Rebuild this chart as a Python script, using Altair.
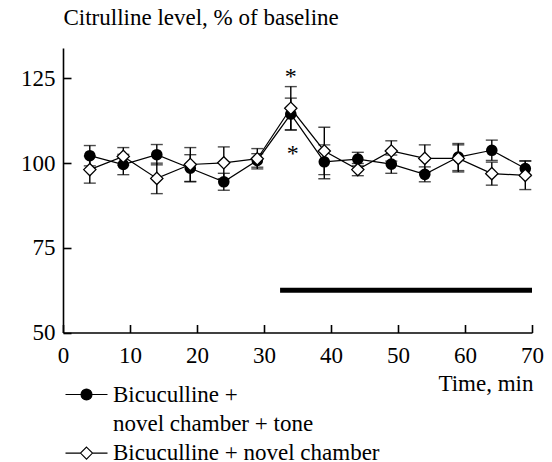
import altair as alt
import pandas as pd

# ---- data ----
time_min = [4, 9, 14, 19, 24, 29, 34, 39, 44, 49, 54, 59, 64, 69]
tone_mean = [102.2, 99.6, 102.5, 98.5, 94.5, 100.8, 114.5, 100.4, 101.2, 99.7, 96.7, 101.8, 103.8, 98.4]
tone_sem = [3.0, 3.0, 3.0, 4.0, 2.5, 2.0, 4.7, 5.0, 2.0, 2.7, 2.2, 4.0, 3.0, 2.3]
chamber_mean = [98.1, 102.0, 95.5, 99.6, 100.1, 101.3, 116.2, 103.6, 98.1, 103.6, 101.4, 101.4, 96.9, 96.4]
chamber_sem = [4.0, 2.6, 4.5, 5.0, 4.7, 3.0, 6.4, 7.0, 1.8, 3.0, 4.0, 4.0, 3.4, 4.2]

series_names = ["Bicuculline + novel chamber + tone", "Bicuculline + novel chamber"]

star_x = [34.0, 34.3]
star_y = [126.7, 104.0]

bar_start = [32.4]
bar_end = [70.0]
bar_level = [62.5]

x_ticks = [0, 10, 20, 30, 40, 50, 60, 70]
y_ticks = [50, 75, 100, 125]

legend_labels = ["Bicuculline +", "novel chamber + tone", "Bicuculline + novel chamber"]
legend_shapes = [
    "M-2.1,0H2.1M0.55,0A0.55,0.55,0,1,1,-0.55,0A0.55,0.55,0,1,1,0.55,0Z",
    "M0,0",
    "M-2.1,0H-0.6M0.6,0H2.1M0,-0.6L0.6,0L0,0.6L-0.6,0Z",
]
legend_fills = ["black", "white", "white"]
legend_strokes = ["black", "white", "black"]

FONT = "Liberation Serif"
W = 469

tone = pd.DataFrame({"t": time_min, "m": tone_mean, "s": tone_sem, "series": series_names[0]})
chamber = pd.DataFrame({"t": time_min, "m": chamber_mean, "s": chamber_sem, "series": series_names[1]})
df = pd.concat([tone, chamber], ignore_index=True)
df["lo"] = df["m"] - df["s"]
df["hi"] = df["m"] + df["s"]

stars = pd.DataFrame({"x": star_x, "y": star_y})
bar = pd.DataFrame({"x": bar_start, "x2": bar_end, "y": bar_level})
leg = pd.DataFrame({"label": legend_labels})

xs = alt.Scale(domain=[0, 70], nice=False, zero=False)
ys = alt.Scale(domain=[50, 134], nice=False, zero=False)

x_axis = alt.Axis(values=x_ticks, title="Time, min", format="d",
                  tickSize={"expr": "-8"}, labelPadding=20, grid=False, labelFlush=False,
                  titleX=W + 1, titleY=58, titleAlign="right", titleBaseline="alphabetic",
                  titleAnchor="end")
y_axis = alt.Axis(values=y_ticks, title="Citrulline level, % of baseline", format="d",
                  tickSize={"expr": "-8"}, labelPadding=16, grid=False, labelFlush=False,
                  titleAngle=0, titleX=0, titleY=-23.5, titleAlign="left",
                  titleBaseline="alphabetic", titleAnchor="start")

base = alt.Chart(df)

lines = base.mark_line(color="black", strokeWidth=1.2).encode(
    x=alt.X("t:Q", scale=xs, axis=x_axis),
    y=alt.Y("m:Q", scale=ys, axis=y_axis),
    detail="series:N",
)

err = base.mark_rule(color="black", strokeWidth=1.4).encode(
    x="t:Q", y="lo:Q", y2="hi:Q"
)
cap_lo = base.mark_tick(color="black", orient="horizontal", size=12, thickness=1.4).encode(
    x="t:Q", y="lo:Q"
)
cap_hi = base.mark_tick(color="black", orient="horizontal", size=12, thickness=1.4).encode(
    x="t:Q", y="hi:Q"
)

circles = base.transform_filter(alt.datum.series == series_names[0]).mark_point(
    shape="circle", filled=True, color="black", size=135, opacity=1
).encode(x="t:Q", y="m:Q")

diamonds = base.transform_filter(alt.datum.series == series_names[1]).mark_point(
    shape="diamond", filled=True, fill="white", stroke="black", strokeWidth=1.3, size=150, opacity=1
).encode(x="t:Q", y="m:Q")

star_layer = alt.Chart(stars).mark_text(
    text="*", font=FONT, fontSize=24, baseline="alphabetic", dy=11, color="black"
).encode(x="x:Q", y="y:Q")

bar_layer = alt.Chart(bar).mark_rule(color="black", strokeWidth=5).encode(
    x="x:Q", x2="x2:Q", y="y:Q"
)

leg_def = alt.Legend(
    title=None, orient="none", legendX=12, legendY=335, padding=0,
    symbolSize=400, symbolStrokeWidth=1.1,
    symbolOpacity=1, labelFont=FONT, labelFontSize=23, labelColor="black",
    labelOffset=15, rowPadding=5.3, labelLimit=400,
)
legend_layer = alt.Chart(leg).mark_point(
    size=0, filled=False, strokeWidth=1.1
).encode(
    x=alt.value(0), y=alt.value(0),
    shape=alt.Shape("label:N", scale=alt.Scale(domain=legend_labels, range=legend_shapes),
                    legend=leg_def, sort=legend_labels),
    fill=alt.Fill("label:N", scale=alt.Scale(domain=legend_labels, range=legend_fills),
                  legend=leg_def, sort=legend_labels),
    stroke=alt.Stroke("label:N", scale=alt.Scale(domain=legend_labels, range=legend_strokes),
                      legend=leg_def, sort=legend_labels),
)

chart = alt.layer(
    lines, err, cap_lo, cap_hi, bar_layer, circles, diamonds, star_layer, legend_layer
).properties(
    width=W, height=284.5,
    padding={"left": 55, "top": 40, "right": 12, "bottom": 140},
    autosize=alt.AutoSizeParams(type="none"),
    background="white",
).configure_view(stroke=None).configure_axis(
    domainColor="black", domainWidth=1.6, tickColor="black", tickWidth=1.6,
    labelFont=FONT, labelFontSize=23, labelColor="black",
    titleFont=FONT, titleFontSize=23, titleColor="black", titleFontWeight="normal",
)

chart.save("out.html", embed_options={"renderer": "svg", "actions": False})
